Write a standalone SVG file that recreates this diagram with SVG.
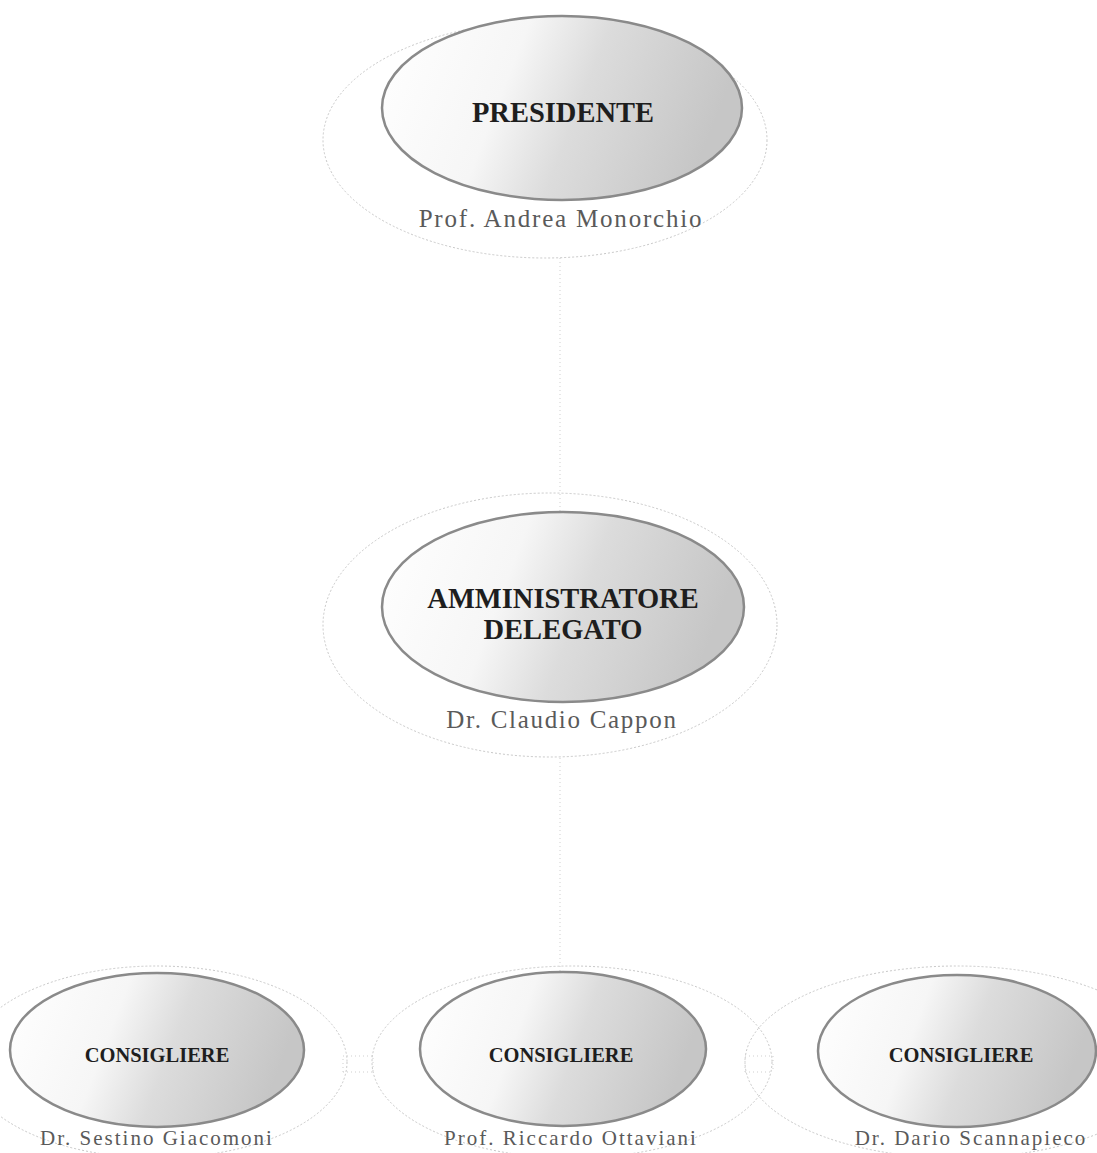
<svg xmlns="http://www.w3.org/2000/svg" width="1097" height="1153" viewBox="0 0 1097 1153">
<defs>
<linearGradient id="fill" x1="0" y1="0" x2="1" y2="0.2">
<stop offset="0" stop-color="#ffffff"/>
<stop offset="0.4" stop-color="#f6f6f6"/>
<stop offset="0.62" stop-color="#dcdcdc"/>
<stop offset="1" stop-color="#c6c6c6"/>
</linearGradient>
<style>
.inner{fill:url(#fill);stroke:#8a8a8a;stroke-width:2.5}
.halo{fill:none;stroke:#c8c8c8;stroke-width:1;stroke-dasharray:2 2}
.title{font-family:"Liberation Serif",serif;font-weight:bold;fill:#1e1e1e;text-anchor:middle}
.name{font-family:"Liberation Serif",serif;fill:#5a5a5a;text-anchor:middle}
.conn{fill:none;stroke:#cfcfcf;stroke-width:1;stroke-dasharray:1 3}
</style>
</defs>
<rect width="1097" height="1153" fill="#ffffff"/>
<g id="connectors">
<line class="conn" x1="560" y1="258" x2="560" y2="512"/>
<line class="conn" x1="560" y1="758" x2="560" y2="972"/>
<path class="conn" d="M343,1072 L343,1056 L373,1056 L373,1072 M343,1072 L373,1072"/>
<path class="conn" d="M745,1072 L745,1056 L773,1056 L773,1072 M745,1072 L773,1072"/>
</g>
<g id="presidente">
<ellipse class="halo" cx="545" cy="140" rx="222" ry="118"/>
<ellipse class="inner" cx="562" cy="108" rx="180" ry="92"/>
<text class="title" x="563" y="122" font-size="28.5">PRESIDENTE</text>
<text class="name" x="561" y="227" font-size="25" letter-spacing="1.8">Prof. Andrea Monorchio</text>
</g>
<g id="amministratore">
<ellipse class="halo" cx="550" cy="625" rx="227" ry="132"/>
<ellipse class="inner" cx="563" cy="607" rx="181" ry="95"/>
<text class="title" x="563" y="608" font-size="28.5">AMMINISTRATORE</text>
<text class="title" x="563" y="639" font-size="28.5">DELEGATO</text>
<text class="name" x="562" y="728" font-size="25" letter-spacing="1.7">Dr. Claudio Cappon</text>
</g>
<g id="consigliere1">
<ellipse class="halo" cx="157" cy="1062" rx="190" ry="96"/>
<ellipse class="inner" cx="157" cy="1050" rx="147" ry="77"/>
<text class="title" x="157" y="1062" font-size="20.5">CONSIGLIERE</text>
<text class="name" x="157" y="1145" font-size="21" letter-spacing="2">Dr. Sestino Giacomoni</text>
</g>
<g id="consigliere2">
<ellipse class="halo" cx="572" cy="1062" rx="200" ry="96"/>
<ellipse class="inner" cx="563" cy="1049" rx="143" ry="77"/>
<text class="title" x="561" y="1062" font-size="20.5">CONSIGLIERE</text>
<text class="name" x="571" y="1145" font-size="21" letter-spacing="2">Prof. Riccardo Ottaviani</text>
</g>
<g id="consigliere3">
<ellipse class="halo" cx="957" cy="1062" rx="212" ry="96"/>
<ellipse class="inner" cx="957" cy="1051" rx="139" ry="76"/>
<text class="title" x="961" y="1062" font-size="20.5">CONSIGLIERE</text>
<text class="name" x="971" y="1145" font-size="21" letter-spacing="2">Dr. Dario Scannapieco</text>
</g>
</svg>
